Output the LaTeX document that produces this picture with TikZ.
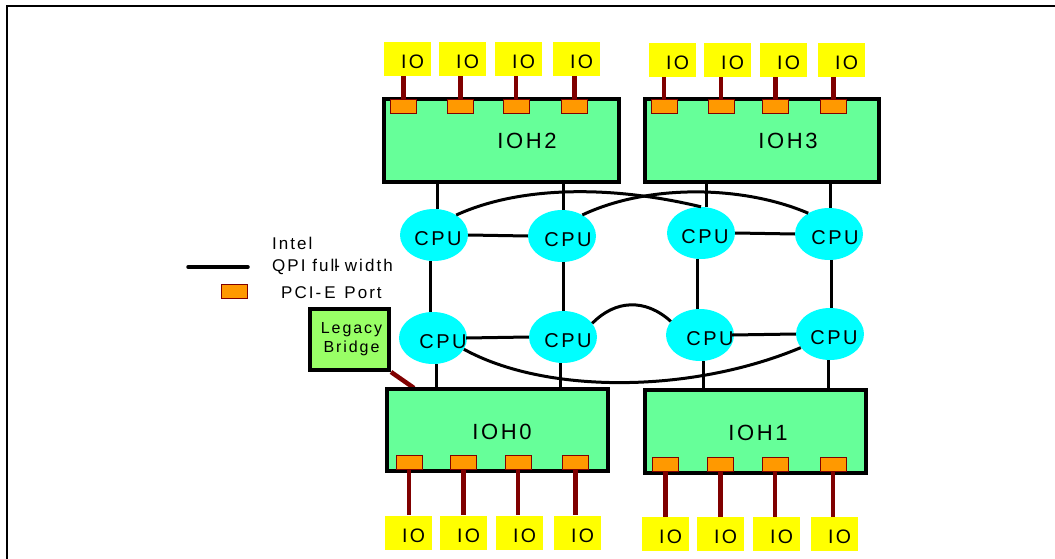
\documentclass[tikz,border=0pt]{standalone}
\usepackage{fontspec}
\setmainfont{Liberation Sans}
\newfontfamily\lsf[LetterSpace=12]{Liberation Sans}
\usetikzlibrary{shapes.geometric}
\definecolor{iohgreen}{HTML}{66FF99}
\definecolor{portorange}{HTML}{FF9900}
\definecolor{dred}{HTML}{800000}
\definecolor{ioyellow}{HTML}{FFFF00}
\definecolor{cpucyan}{HTML}{00FFFF}
\definecolor{lbgreen}{HTML}{99FF66}
\newcommand\fsz[1]{\fontsize{#1}{#1}\selectfont}
\tikzset{
  frame/.style={draw=black, line width=2pt},
  ioh/.style={draw=black, line width=4pt, fill=iohgreen, rectangle, inner sep=0pt},
  iohlbl/.style={font=\lsf\fsz{22}, inner sep=0pt},
  port/.style={draw=dred, line width=1pt, fill=portorange, rectangle, minimum width=26pt, minimum height=14pt, inner sep=0pt},
  iobox/.style={fill=ioyellow, rectangle, minimum width=47pt, minimum height=34pt, inner sep=0pt},
  iolbl/.style={font=\lsf\fsz{19.5}, inner sep=0pt, xshift=5pt, yshift=-3pt},
  pcie/.style={draw=dred, line width=4.5pt},
  qpi/.style={draw=black, line width=3pt},
  cpu/.style={ellipse, fill=cpucyan, minimum width=68pt, minimum height=52pt, inner sep=0pt},
  cpulbl/.style={font=\lsf\fsz{20}, inner sep=0pt, yshift=-4pt},
  lbbox/.style={draw=black, line width=4pt, fill=lbgreen, rectangle, minimum width=79pt, minimum height=61pt, inner sep=0pt, align=center, font=\lsf\fontsize{16}{19}\selectfont},
  legtext/.style={font=\lsf\fsz{17}, inner sep=0pt, anchor=west},
}
\begin{document}
\begin{tikzpicture}[x=1pt,y=-1pt]
\useasboundingbox (0,0) rectangle (1055,559);
% frame
\draw[frame] (7,559) -- (7,6) -- (1055,6);

% legend
\node[legtext] (lgintel) at (272,243) {Intel};
\node[legtext] (lgqpi) at (272,267) {QPI ful\rlap{-}l width};
\node[legtext] (lgpcie) at (281,293) {PCI-\kern3pt E\kern2pt{} Port};
\coordinate (lgl1) at (188,267);
\coordinate (lgl2) at (248,267);
\draw[black, line width=3.5pt, line cap=round] (lgl1) -- (lgl2);
\node[port] (lgport) at (234.5,291.5) {};

% legacy bridge link (under IOH0)
\node[lbbox] (lb) at (349.5,339.5) {\hspace*{4pt}Legacy\\\hspace*{4pt}Bridge};
\coordinate (lbend) at (414,388);
\draw[pcie] (lb.south east) -- (lbend);

% IOH boxes
\node[ioh, minimum width=235pt, minimum height=83pt, label={[iohlbl,xshift=25.5pt]center:IOH2}] (ioh2) at (501.5,140.5) {};
\node[ioh, minimum width=234pt, minimum height=83pt, label={[iohlbl,xshift=26pt]center:IOH3}] (ioh3) at (762,140.5) {};
\node[ioh, minimum width=221pt, minimum height=82pt, label={[iohlbl,xshift=4.5pt,yshift=-2pt]center:IOH0}] (ioh0) at (497.5,430) {};
\node[ioh, minimum width=221pt, minimum height=83pt, label={[iohlbl,xshift=2.5pt,yshift=-1.5pt]center:IOH1}] (ioh1) at (755.5,431.5) {};

% ports and IO boxes, IOH2
\foreach \i/\x in {1/403.5,2/460.5,3/516,4/574.5}
  \node[port] (p2\i) at (\x,106.5) {};
\foreach \i/\x in {1/407.5,2/462.5,3/518.5,4/576.5}
  \node[iobox, label={[iolbl]center:IO}] (io2\i) at (\x,59) {};
\foreach \i in {1,...,4}
  \draw[pcie] (p2\i.north) -- (p2\i.north |- io2\i.south);

% IOH3
\foreach \i/\x in {1/664,2/721,3/775.5,4/833.5}
  \node[port] (p3\i) at (\x,106.5) {};
\foreach \i/\x in {1/672.5,2/727.5,3/783.5,4/841.5}
  \node[iobox, label={[iolbl]center:IO}] (io3\i) at (\x,60) {};
\foreach \i in {1,...,4}
  \draw[pcie] (p3\i.north) -- (p3\i.north |- io3\i.south);

% IOH0
\foreach \i/\x in {1/409,2/463.5,3/518,4/575.5}
  \node[port] (p0\i) at (\x,462) {};
\foreach \i/\x in {1/408.5,2/463.5,3/519.5,4/577.5}
  \node[iobox, label={[iolbl]center:IO}] (io0\i) at (\x,532.5) {};
\foreach \i in {1,...,4}
  \draw[pcie] (p0\i.south) -- (p0\i.south |- io0\i.north);

% IOH1
\foreach \i/\x in {1/665.5,2/720.5,3/775,4/833}
  \node[port] (p1\i) at (\x,464) {};
\foreach \i/\x in {1/665.5,2/720.5,3/776.5,4/834.5}
  \node[iobox, label={[iolbl]center:IO}] (io1\i) at (\x,534) {};
\foreach \i in {1,...,4}
  \draw[pcie] (p1\i.south) -- (p1\i.south |- io1\i.north);

% CPUs
\node[cpu, label={[cpulbl,xshift=4pt]center:CPU}] (cpu1) at (434,235) {};
\node[cpu, label={[cpulbl,xshift=6pt]center:CPU}] (cpu2) at (562,236) {};
\node[cpu, label={[cpulbl,xshift=4pt]center:CPU}] (cpu3) at (701,233) {};
\node[cpu, label={[cpulbl,xshift=6pt]center:CPU}] (cpu4) at (829,234) {};
\node[cpu, label={[cpulbl,xshift=10pt]center:CPU}] (cpu5) at (433,338) {};
\node[cpu, label={[cpulbl,xshift=5pt]center:CPU}] (cpu6) at (563,337) {};
\node[cpu, label={[cpulbl,xshift=10pt]center:CPU}] (cpu7) at (700,335) {};
\node[cpu, label={[cpulbl,xshift=4pt]center:CPU}] (cpu8) at (830,334) {};

% IOH - CPU links
\draw[qpi] ([xshift=3pt]cpu1.north) -- ([xshift=3pt]cpu1.north |- ioh2.south);
\draw[qpi] ([xshift=1pt]cpu2.north) -- ([xshift=1pt]cpu2.north |- ioh2.south);
\draw[qpi] ([xshift=5pt]cpu3.north) -- ([xshift=5pt]cpu3.north |- ioh3.south);
\draw[qpi] ([xshift=1pt]cpu4.north) -- ([xshift=1pt]cpu4.north |- ioh3.south);
\draw[qpi] ([xshift=3pt]cpu5.south) -- ([xshift=3pt]cpu5.south |- ioh0.north);
\draw[qpi] ([xshift=-3pt]cpu6.south) -- ([xshift=-3pt]cpu6.south |- ioh0.north);
\draw[qpi] ([xshift=3pt]cpu7.south) -- ([xshift=3pt]cpu7.south |- ioh1.north);
\draw[qpi] ([xshift=-2pt]cpu8.south) -- ([xshift=-2pt]cpu8.south |- ioh1.north);

% CPU - CPU links
\draw[qpi] (cpu1.east) -- (cpu2.west);
\draw[qpi] (cpu3.east) -- (cpu4.west);
\draw[qpi] ([xshift=-1pt]cpu5.east) -- (cpu6.west);
\draw[qpi] ([xshift=-2pt]cpu7.east) -- (cpu8.west);
\draw[qpi] ([xshift=-4pt]cpu1.south) -- ([xshift=-4pt]cpu1.south |- cpu5.north);
\draw[qpi] ([xshift=1pt]cpu2.south) -- ([xshift=1pt]cpu2.south |- cpu6.north);
\draw[qpi] ([xshift=-4pt]cpu3.south) -- ([xshift=-4pt]cpu3.south |- cpu7.north);
\draw[qpi] ([xshift=2pt]cpu4.south) -- ([xshift=2pt]cpu4.south |- cpu8.north);

\draw[qpi] (cpu1.42) .. controls (520,186) and (610,185) .. (cpu3.north);
\draw[qpi] (cpu2.46) .. controls (650,183) and (745,186) .. (cpu4.135);
\draw[qpi] (cpu6.25) .. controls (615,300) and (645,298) .. (cpu7.155);
\draw[qpi] (cpu5.-20) .. controls (545,394) and (690,394) .. (cpu8.205);
\end{tikzpicture}
\end{document}
